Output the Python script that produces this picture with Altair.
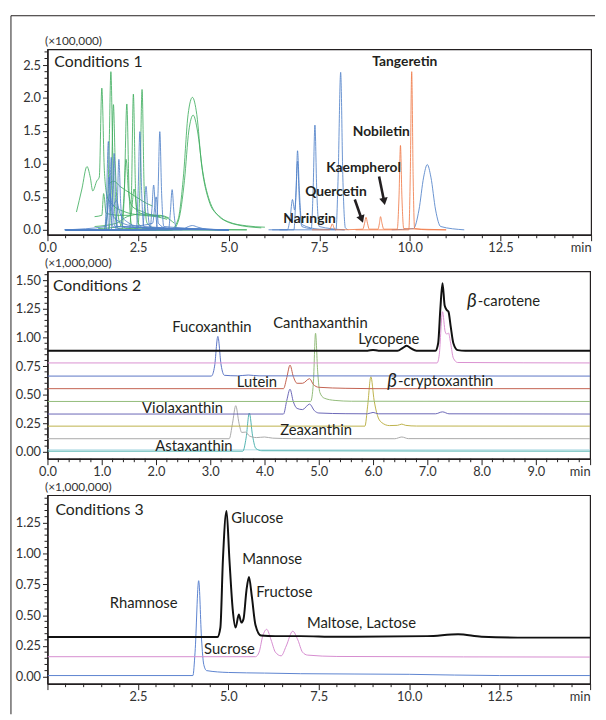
import altair as alt
import pandas as pd

FONT = "Lato"
INK = "#231f20"

# ---------------- Conditions 1 (x100,000) ----------------
c1_groups = ["organic acid", "amino acid", "Flavonoid"]
c1_trace_colors = ["#3fae5f", "#4f80c8", "#f07a48"]
c1_legend_colors = ["#22b04b", "#4a7fc8", "#f9b400"]

c1_g1 = [(0.80, 0.27), (0.95, 0.62), (1.09, 0.96), (1.18, 0.80), (1.25, 0.59), (1.36, 0.74), (1.43, 0.80),
         (1.50, 2.15), (1.57, 0.90), (1.65, 0.50), (1.80, 0.38), (2.10, 0.28), (2.60, 0.22), (3.00, 0.20), (3.30, 0.16)]
c1_g2 = [(0.50, 0.0), (1.55, 0.0), (1.65, 0.25), (1.70, 1.20), (1.75, 2.40), (1.80, 1.20), (1.86, 0.25), (1.95, 0.02), (3.0, 0.0), (5.0, 0.0)]
c1_g3 = [(0.50, 0.0), (1.70, 0.01), (1.76, 0.60), (1.82, 1.90), (1.87, 1.00), (1.92, 0.40), (2.00, 0.10), (2.20, 0.02), (5.0, 0.0)]
c1_g4 = [(0.50, 0.0), (2.05, 0.0), (2.12, 0.55), (2.19, 1.91), (2.25, 0.60), (2.32, 0.08), (2.50, 0.0), (5.5, 0.0)]
c1_g5 = [(0.50, 0.0), (2.26, 0.0), (2.32, 0.60), (2.37, 2.06), (2.43, 0.60), (2.50, 0.10), (2.70, 0.02), (5.5, 0.0)]
c1_g6 = [(0.50, 0.0), (2.48, 0.0), (2.55, 0.60), (2.61, 2.13), (2.67, 0.60), (2.75, 0.10), (3.00, 0.02), (5.0, 0.0)]
c1_g7 = [(1.00, 0.0), (3.40, 0.0), (3.60, 0.15), (3.75, 0.80), (3.88, 1.75), (4.00, 2.01), (4.12, 1.75), (4.25, 1.00),
         (4.45, 0.45), (4.70, 0.22), (5.00, 0.12), (5.50, 0.06), (6.00, 0.04)]
c1_g8 = [(1.20, 0.0), (3.45, 0.0), (3.62, 0.15), (3.78, 0.75), (3.90, 1.50), (4.02, 1.74), (4.14, 1.50), (4.28, 0.90),
         (4.50, 0.40), (4.80, 0.18), (5.20, 0.08), (5.90, 0.03)]
c1_g9 = [(1.40, 0.02), (2.00, 0.05), (2.10, 0.40), (2.17, 1.07), (2.24, 0.55), (2.35, 0.35), (2.60, 0.28), (2.90, 0.22), (3.10, 0.20)]
c1_g10 = [(1.30, 0.20), (1.50, 0.22), (1.55, 0.55), (1.62, 0.25), (2.00, 0.22), (2.30, 0.22), (2.39, 0.62), (2.48, 0.28),
          (2.80, 0.22), (3.10, 0.22), (3.35, 0.18)]
c1_g11 = [(1.70, 0.70), (1.83, 0.74), (2.00, 0.66), (2.30, 0.55), (2.50, 0.48), (2.74, 0.40), (2.90, 0.36)]
c1_g12 = [(1.30, 0.05), (1.90, 0.10), (2.20, 0.20), (2.60, 0.24), (3.00, 0.22), (3.30, 0.18), (3.50, 0.10)]

c1_b1 = [(0.46, 0.0), (1.58, 0.0), (1.63, 0.50), (1.68, 1.34), (1.73, 0.50), (1.80, 0.05), (2.20, 0.0), (5.0, 0.0)]
c1_b2 = [(0.50, 0.0), (1.68, 0.0), (1.72, 0.50), (1.76, 1.10), (1.80, 0.45), (1.86, 0.05), (5.0, 0.0)]
c1_b3 = [(0.50, 0.0), (1.76, 0.0), (1.80, 0.50), (1.84, 1.16), (1.88, 0.45), (1.94, 0.05), (5.0, 0.0)]
c1_b4 = [(0.50, 0.0), (1.88, 0.0), (1.93, 0.45), (1.97, 1.07), (2.02, 0.40), (2.08, 0.05), (5.0, 0.0)]
c1_b5 = [(0.50, 0.0), (2.45, 0.0), (2.50, 0.55), (2.55, 1.49), (2.60, 0.55), (2.66, 0.05), (5.0, 0.0)]
c1_b6 = [(0.50, 0.0), (3.00, 0.0), (3.05, 0.55), (3.10, 1.49), (3.15, 0.55), (3.21, 0.05), (5.0, 0.0)]
c1_b7 = [(0.50, 0.0), (2.62, 0.0), (2.67, 0.28), (2.72, 0.66), (2.77, 0.28), (2.83, 0.03), (5.0, 0.0)]
c1_b8 = [(0.50, 0.0), (2.83, 0.0), (2.88, 0.30), (2.93, 0.68), (2.98, 0.30), (3.04, 0.03), (5.0, 0.0)]
c1_b9 = [(0.50, 0.0), (3.34, 0.0), (3.39, 0.26), (3.44, 0.61), (3.49, 0.26), (3.55, 0.03), (5.0, 0.0)]
c1_b10 = [(0.50, 0.0), (1.62, 0.0), (1.66, 0.35), (1.70, 0.80), (1.75, 0.40), (1.82, 0.20), (2.00, 0.12), (2.40, 0.06),
          (2.90, 0.10), (3.00, 0.50), (3.06, 0.10), (3.30, 0.02), (5.0, 0.0)]
c1_b11 = [(0.50, 0.0), (3.70, 0.0), (3.85, 0.04), (4.00, 0.065), (4.15, 0.04), (4.40, 0.01), (5.0, 0.0)]
c1_b12 = [(0.50, 0.0), (1.60, 0.05), (1.72, 0.55), (1.80, 0.35), (1.90, 0.45), (2.00, 0.25), (2.20, 0.12), (2.50, 0.05), (3.00, 0.02)]
c1_b13 = [(6.10, 0.0), (6.62, 0.0), (6.70, 0.20), (6.76, 0.46), (6.82, 0.30), (6.86, 0.60), (6.90, 1.20), (6.95, 0.60),
          (7.02, 0.08), (7.50, 0.01), (8.20, 0.0)]
c1_b14 = [(6.20, 0.0), (6.80, 0.0), (6.85, 0.45), (6.90, 1.04), (6.95, 0.45), (7.02, 0.05), (7.28, 0.02), (7.33, 0.60),
          (7.38, 1.59), (7.43, 0.60), (7.50, 0.05), (8.20, 0.0)]
c1_b15 = [(6.40, 0.0), (7.96, 0.0), (8.02, 0.80), (8.09, 2.39), (8.15, 0.80), (8.22, 0.03), (8.30, 0.0)]
c1_b16 = [(9.50, 0.0), (10.10, 0.02), (10.25, 0.30), (10.38, 0.80), (10.48, 0.99), (10.58, 0.80), (10.71, 0.30),
          (10.85, 0.05), (11.50, 0.0)]

c1_o1 = [(7.30, 0.0), (7.78, 0.0), (7.82, 0.04), (7.86, 0.09), (7.90, 0.04), (7.94, 0.0), (8.70, 0.01), (8.75, 0.10),
         (8.79, 0.19), (8.83, 0.10), (8.88, 0.01), (9.12, 0.01), (9.16, 0.10), (9.19, 0.20), (9.23, 0.10), (9.28, 0.01),
         (9.65, 0.01), (9.70, 0.50), (9.74, 1.28), (9.78, 0.50), (9.83, 0.02), (10.30, 0.01), (11.00, 0.0)]
c1_o2 = [(8.50, 0.0), (9.97, 0.0), (10.01, 0.80), (10.05, 2.40), (10.09, 0.80), (10.13, 0.02), (10.50, 0.0), (11.00, 0.0)]

c1_text = ["Tangeretin", "Nobiletin", "Kaempherol", "Quercetin", "Naringin"]
c1_text_x = [9.86, 9.21, 8.72, 7.96, 7.23]
c1_text_y = [2.545, 1.48, 0.94, 0.58, 0.165]

c1_arrow_x = [8.48, 9.15]
c1_arrow_y = [0.46, 0.81]
c1_arrow_x2 = [8.67, 9.29]
c1_arrow_y2 = [0.16, 0.43]
c1_arrow_angle = [340, 349]

# ---------------- Conditions 2 (x1,000,000) ----------------
c2_black = [(0, 0.885), (5.90, 0.885), (6.00, 0.892), (6.10, 0.885), (6.45, 0.885), (6.55, 0.91), (6.62, 0.928),
            (6.70, 0.905), (6.80, 0.885), (7.15, 0.885), (7.20, 0.95), (7.24, 1.25), (7.28, 1.476), (7.32, 1.28),
            (7.36, 1.24), (7.39, 1.226), (7.43, 1.10), (7.48, 0.95), (7.56, 0.89), (7.70, 0.885), (10.0, 0.885)]
c2_pink = [(0, 0.778), (7.18, 0.778), (7.22, 0.85), (7.28, 1.226), (7.33, 1.05), (7.36, 1.03), (7.39, 1.04),
           (7.43, 0.95), (7.48, 0.82), (7.56, 0.782), (10.0, 0.778)]
c2_blue = [(0, 0.663), (3.02, 0.663), (3.08, 0.75), (3.14, 1.01), (3.20, 0.76), (3.26, 0.67), (3.50, 0.665),
           (3.70, 0.672), (3.90, 0.665), (10.0, 0.663)]
c2_red = [(0, 0.553), (4.35, 0.553), (4.41, 0.65), (4.47, 0.759), (4.53, 0.66), (4.60, 0.60), (4.70, 0.60),
          (4.83, 0.64), (4.90, 0.59), (5.00, 0.565), (5.50, 0.556), (6.00, 0.553), (10.0, 0.553)]
c2_green = [(0, 0.441), (4.85, 0.441), (4.90, 0.60), (4.94, 1.038), (4.98, 0.70), (5.02, 0.52), (5.10, 0.47),
            (5.30, 0.45), (5.60, 0.443), (10.0, 0.441)]
c2_indigo = [(0, 0.331), (4.35, 0.331), (4.41, 0.45), (4.47, 0.548), (4.53, 0.44), (4.60, 0.38), (4.70, 0.37),
             (4.83, 0.418), (4.92, 0.36), (5.00, 0.34), (5.50, 0.334), (5.90, 0.333), (6.00, 0.345), (6.10, 0.333),
             (7.15, 0.333), (7.28, 0.35), (7.40, 0.333), (10.0, 0.331)]
c2_olive = [(0, 0.225), (5.85, 0.225), (5.90, 0.40), (5.96, 0.657), (6.02, 0.45), (6.08, 0.32), (6.15, 0.26),
            (6.30, 0.23), (6.45, 0.232), (6.53, 0.243), (6.60, 0.232), (6.80, 0.226), (10.0, 0.225)]
c2_gray = [(0, 0.115), (3.35, 0.115), (3.41, 0.25), (3.47, 0.404), (3.53, 0.25), (3.58, 0.17), (3.65, 0.173),
           (3.72, 0.14), (3.85, 0.125), (4.00, 0.13), (4.15, 0.12), (4.50, 0.116), (6.40, 0.115), (6.53, 0.13),
           (6.65, 0.116), (10.0, 0.115)]
c2_teal = [(0, 0.006), (3.60, 0.006), (3.66, 0.12), (3.72, 0.34), (3.78, 0.14), (3.84, 0.03), (3.95, 0.01), (10.0, 0.006)]
c2_cyan = [(0, 0.018), (10.0, 0.018)]

c2_trace_names = ["cyan", "teal", "gray", "olive", "indigo", "green", "red", "blue", "pink"]
c2_trace_colors = ["#b5dde6", "#4fb3b0", "#a9a9a9", "#bdb24a", "#6a66b6", "#92bb7a", "#c2614f", "#5a74c4", "#d98fd0"]

c2_text = ["Fucoxanthin", "Canthaxanthin", "Lycopene", "Lutein", "Violaxanthin", "Zeaxanthin", "Astaxanthin"]
c2_text_x = [3.03, 5.03, 6.29, 3.86, 2.49, 4.95, 2.70]
c2_text_y = [1.09, 1.125, 0.986, 0.614, 0.38, 0.19, 0.052]
c2_beta_rest = ["-carotene", "-cryptoxanthin"]
c2_beta_x = [7.93, 6.46]
c2_beta_y = [1.32, 0.623]

# ---------------- Conditions 3 (x1,000,000) ----------------
c3_black = [(0, 0.323), (4.70, 0.323), (4.78, 0.40), (4.85, 0.95), (4.95, 1.346), (5.03, 0.95), (5.12, 0.55),
            (5.20, 0.40), (5.29, 0.505), (5.36, 0.44), (5.42, 0.47), (5.50, 0.70), (5.57, 0.81), (5.65, 0.65),
            (5.75, 0.42), (5.90, 0.335), (6.30, 0.33), (7.00, 0.33), (8.00, 0.325), (10.50, 0.33), (11.35, 0.345),
            (12.00, 0.325), (13.00, 0.318), (15.0, 0.318)]
c3_pink = [(0, 0.163), (5.75, 0.163), (5.85, 0.20), (5.95, 0.33), (6.06, 0.385), (6.18, 0.30), (6.30, 0.20),
           (6.46, 0.17), (6.60, 0.25), (6.78, 0.37), (6.92, 0.30), (7.05, 0.20), (7.19, 0.176), (8.00, 0.165), (15.0, 0.16)]
c3_blue = [(0, 0.01), (4.02, 0.01), (4.08, 0.20), (4.18, 0.78), (4.26, 0.30), (4.32, 0.10), (4.40, 0.05),
           (5.00, 0.035), (6.00, 0.03), (7.00, 0.025), (10.0, 0.02), (12.5, 0.01), (15.0, 0.01)]
c3_trace_names = ["blue", "pink"]
c3_trace_colors = ["#5b82cf", "#d58bcf"]

c3_text = ["Glucose", "Mannose", "Fructose", "Rhamnose", "Sucrose", "Maltose, Lactose"]
c3_text_x = [5.80, 6.21, 6.55, 2.66, 5.03, 8.68]
c3_text_y = [1.29, 0.954, 0.69, 0.60, 0.224, 0.433]

# ---------------- axis ticks ----------------
x15_major = [0, 2.5, 5.0, 7.5, 10.0, 12.5, 15.0]
x15_minor = [i * 0.5 for i in range(31) if i % 5 != 0]
x10_major = [0, 1, 2, 3, 4, 5, 6, 7, 8, 9, 10]
x10_minor = [round(i * 0.2, 2) for i in range(51) if i % 5 != 0]
y1_major = [0, 0.5, 1.0, 1.5, 2.0, 2.5]
y1_minor = [round(i * 0.1, 2) for i in range(28) if i % 5 != 0]
y2_major = [0, 0.25, 0.5, 0.75, 1.0, 1.25, 1.5]
y2_minor = [round(i * 0.05, 3) for i in range(32) if i % 5 != 0]
y3_major = [0, 0.25, 0.5, 0.75, 1.0, 1.25]
y3_minor = [round(i * 0.05, 3) for i in range(30) if i % 5 != 0]


def frame(traces):
    rows = []
    for name, group, pts in traces:
        for i, (x, y) in enumerate(pts):
            rows.append({"trace": name, "group": group, "i": i, "x": x, "y": y})
    return pd.DataFrame(rows)


def x_axis(values, end, hide_zero=False):
    zero = "datum.value < 0.01 ? '' : " if hide_zero else ""
    return alt.Axis(
        values=values, tickCount=100, title=None, grid=False, labelFlush=False, labelOverlap=False, tickSize=6,
        labelExpr=f"datum.value >= {end - 0.01} ? 'min' : ({zero}format(datum.value, '.1f'))",
        labelAlign={"condition": {"test": f"datum.value >= {end - 0.01}", "value": "right"}, "value": "center"},
        labelPadding=1,
    )


def y_axis(values, fmt, title):
    return alt.Axis(
        values=values, tickCount=100, grid=False, labelOverlap=False, labelFlush=False, labelBound=False, tickSize=5,
        labelExpr=f"format(datum.value, '{fmt}')",
        title=title, titleAngle=0, titleAlign="left", titleBaseline="bottom", titleX=-3, titleY=-2,
        labelPadding=2,
    )


def minor_x(values, scale, h):
    return alt.Chart(pd.DataFrame({"v": values})).mark_rule(color=INK, strokeWidth=1).encode(
        x=alt.X("v:Q", scale=scale), y=alt.value(h), y2=alt.value(h + 3.5))


def minor_y(values, scale):
    return alt.Chart(pd.DataFrame({"v": values})).mark_rule(color=INK, strokeWidth=1).encode(
        y=alt.Y("v:Q", scale=scale), x=alt.value(0), x2=alt.value(-3))


# ---------- panel 1 ----------
W1, H1 = 551, 188
X1 = alt.Scale(domain=[0, 15], nice=False, zero=False)
Y1 = alt.Scale(domain=[-0.075, 2.74], nice=False, zero=False)
c1_traces = ([(f"g{k}", "organic acid", t) for k, t in enumerate(
    [c1_g1, c1_g2, c1_g3, c1_g4, c1_g5, c1_g6, c1_g7, c1_g8, c1_g9, c1_g10, c1_g11, c1_g12])]
    + [(f"b{k}", "amino acid", t) for k, t in enumerate(
        [c1_b1, c1_b2, c1_b3, c1_b4, c1_b5, c1_b6, c1_b7, c1_b8, c1_b9, c1_b10, c1_b11, c1_b12, c1_b13, c1_b14, c1_b15, c1_b16])]
    + [(f"o{k}", "Flavonoid", t) for k, t in enumerate([c1_o1, c1_o2])])
df1 = frame(c1_traces)

p1_lines = alt.Chart(df1).mark_line(interpolate="monotone", strokeWidth=1, opacity=0.85, clip=True).encode(
    x=alt.X("x:Q", scale=X1, axis=x_axis(x15_major, 15)),
    y=alt.Y("y:Q", scale=Y1, axis=y_axis(y1_major, ".1f", "(×100,000)")),
    stroke=alt.Stroke("group:N", scale=alt.Scale(domain=c1_groups, range=c1_trace_colors), legend=None),
    detail="trace:N", order="i:Q",
)
df1_leg = pd.DataFrame({"group": c1_groups, "x": [0, 0, 0], "y": [0, 0, 0]})
p1_legend = alt.Chart(df1_leg).mark_rule(strokeWidth=1).encode(
    x="x:Q", x2="x:Q", y="y:Q",
    color=alt.Color("group:N", scale=alt.Scale(domain=c1_groups, range=c1_legend_colors),
                    legend=alt.Legend(orient="none", legendX=424, legendY=21, title=None, symbolType="stroke",
                                      symbolStrokeWidth=3, symbolSize=150, labelFontSize=15, labelFont=FONT,
                                      labelColor=INK, rowPadding=4, labelOffset=7)),
)
df1_txt = pd.DataFrame({"label": c1_text, "x": c1_text_x, "y": c1_text_y})
p1_text = alt.Chart(df1_txt).mark_text(font=FONT, fontSize=14, fontWeight="bold", color=INK).encode(
    x="x:Q", y="y:Q", text="label:N")
df1_arr = pd.DataFrame({"x": c1_arrow_x, "y": c1_arrow_y, "x2": c1_arrow_x2, "y2": c1_arrow_y2, "angle": c1_arrow_angle})
p1_arrow = alt.Chart(df1_arr).mark_rule(strokeWidth=2.6, color=INK).encode(x="x:Q", y="y:Q", x2="x2:Q", y2="y2:Q")
p1_head = alt.Chart(df1_arr).mark_point(shape="triangle-down", filled=True, size=75, color=INK, opacity=1).encode(
    x="x2:Q", y="y2:Q", angle=alt.Angle("angle:Q", scale=None))
p1_title = alt.Chart(pd.DataFrame({"label": ["Conditions 1"], "x": [0.19], "y": [2.545]})).mark_text(
    font=FONT, fontSize=16, color=INK, align="left").encode(x="x:Q", y="y:Q", text="label:N")
one = pd.DataFrame({"a": [0]})
p1_frame_top = alt.Chart(one).mark_rule(color=INK, strokeWidth=1).encode(
    x=alt.value(-37), x2=alt.value(555), y=alt.value(-34))
p1_frame_left = alt.Chart(one).mark_rule(color=INK, strokeWidth=1).encode(
    x=alt.value(-37), y=alt.value(-34), y2=alt.value(674))

panel1 = alt.layer(p1_lines, p1_frame_top, p1_frame_left, minor_x(x15_minor, X1, H1), minor_y(y1_minor, Y1),
                   p1_legend, p1_text, p1_arrow, p1_head, p1_title).properties(width=W1, height=H1)

# ---------- panel 2 ----------
W2, H2 = 550, 190
X2 = alt.Scale(domain=[0, 10], nice=False, zero=False)
Y2 = alt.Scale(domain=[-0.06, 1.58], nice=False, zero=False)
df2 = frame([(n, n, t) for n, t in zip(c2_trace_names, [c2_cyan, c2_teal, c2_gray, c2_olive, c2_indigo,
                                                          c2_green, c2_red, c2_blue, c2_pink])])
df2b = frame([("black", "black", c2_black)])
p2_lines = alt.Chart(df2).mark_line(interpolate="monotone", strokeWidth=1, clip=True).encode(
    x=alt.X("x:Q", scale=X2, axis=x_axis(x10_major, 10)),
    y=alt.Y("y:Q", scale=Y2, axis=y_axis(y2_major, ".2f", "(×1,000,000)")),
    stroke=alt.Stroke("trace:N", scale=alt.Scale(domain=c2_trace_names, range=c2_trace_colors), legend=None),
    order="i:Q",
)
p2_black = alt.Chart(df2b).mark_line(interpolate="monotone", strokeWidth=2, color="#111111", clip=True).encode(
    x="x:Q", y="y:Q", order="i:Q")
df2_txt = pd.DataFrame({"label": c2_text, "x": c2_text_x, "y": c2_text_y})
p2_text = alt.Chart(df2_txt).mark_text(font=FONT, fontSize=15, color=INK).encode(x="x:Q", y="y:Q", text="label:N")
df2_beta = pd.DataFrame({"label": c2_beta_rest, "x": c2_beta_x, "y": c2_beta_y, "b": ["β", "β"]})
p2_beta = alt.Chart(df2_beta).mark_text(font=FONT, fontSize=19, fontStyle="italic", color=INK, align="right",
                                        dx=-1).encode(x="x:Q", y="y:Q", text="b:N")
p2_beta_rest = alt.Chart(df2_beta).mark_text(font=FONT, fontSize=15, color=INK, align="left").encode(
    x="x:Q", y="y:Q", text="label:N")
p2_title = alt.Chart(pd.DataFrame({"label": ["Conditions 2"], "x": [0.1], "y": [1.453]})).mark_text(
    font=FONT, fontSize=16, color=INK, align="left").encode(x="x:Q", y="y:Q", text="label:N")
panel2 = alt.layer(p2_lines, p2_black, minor_x(x10_minor, X2, H2), minor_y(y2_minor, Y2),
                   p2_text, p2_beta, p2_beta_rest, p2_title).properties(width=W2, height=H2)

# ---------- panel 3 ----------
W3, H3 = 550, 191
X3 = alt.Scale(domain=[0, 15], nice=False, zero=False)
Y3 = alt.Scale(domain=[-0.056, 1.474], nice=False, zero=False)
df3 = frame([(n, n, t) for n, t in zip(c3_trace_names, [c3_blue, c3_pink])])
df3b = frame([("black", "black", c3_black)])
p3_lines = alt.Chart(df3).mark_line(interpolate="monotone", strokeWidth=1, clip=True).encode(
    x=alt.X("x:Q", scale=X3, axis=x_axis(x15_major, 15, hide_zero=True)),
    y=alt.Y("y:Q", scale=Y3, axis=y_axis(y3_major, ".2f", "(×1,000,000)")),
    stroke=alt.Stroke("trace:N", scale=alt.Scale(domain=c3_trace_names, range=c3_trace_colors), legend=None),
    order="i:Q",
)
p3_black = alt.Chart(df3b).mark_line(interpolate="monotone", strokeWidth=2, color="#111111", clip=True).encode(
    x="x:Q", y="y:Q", order="i:Q")
df3_txt = pd.DataFrame({"label": c3_text, "x": c3_text_x, "y": c3_text_y})
p3_text = alt.Chart(df3_txt).mark_text(font=FONT, fontSize=15, color=INK).encode(x="x:Q", y="y:Q", text="label:N")
p3_title = alt.Chart(pd.DataFrame({"label": ["Conditions 3"], "x": [0.22], "y": [1.354]})).mark_text(
    font=FONT, fontSize=16, color=INK, align="left").encode(x="x:Q", y="y:Q", text="label:N")
panel3 = alt.layer(p3_lines, p3_black, minor_x(x15_minor, X3, H3), minor_y(y3_minor, Y3),
                   p3_text, p3_title).properties(width=W3, height=H3)

chart = alt.vconcat(panel1, panel2, panel3, spacing=37, bounds="flush").resolve_scale(
    stroke="independent", color="independent"
).properties(
    padding={"left": 1, "top": 1, "right": 1, "bottom": 1}
).configure_view(stroke=INK, strokeWidth=1.2).configure_axis(
    domainColor=INK, domainWidth=1.5, tickColor=INK, tickWidth=1, labelColor="#333333",
    labelFont=FONT, labelFontSize=13, titleFont=FONT, titleFontSize=12, titleFontWeight="normal",
    titleColor="#333333", labelOverlap=False,
)

chart.save("out.html", embed_options={"renderer": "svg", "actions": False})
